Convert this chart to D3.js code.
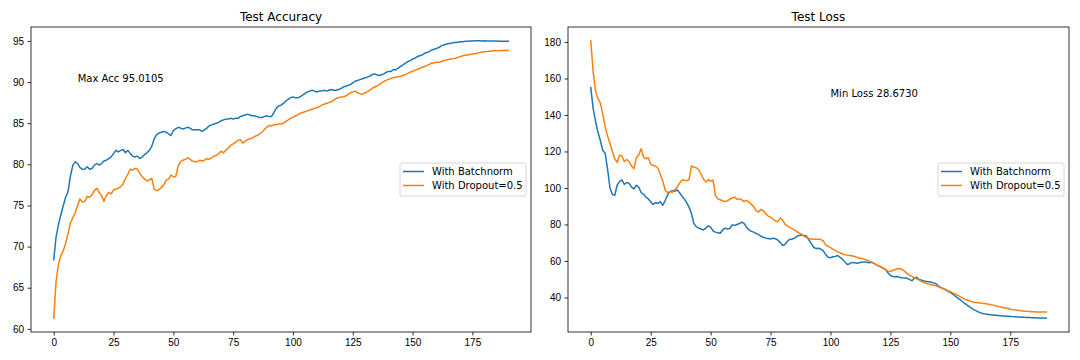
<!DOCTYPE html>
<html lang="en">
<head>
    <meta charset="UTF-8">
    <title>Test Accuracy / Test Loss</title>
    <style>
        body {
            margin: 0;
            background-color: #fff;
        }

        svg {
            display: block;
            font-family: "DejaVu Sans", sans-serif;
        }

        .tick line {
            stroke: #000;
            stroke-width: 0.8px;
        }

        .tick text {
            font-size: 10px;
            fill: #000;
        }

        .frame {
            fill: none;
            stroke: #000;
            stroke-width: 0.8px;
        }

        .title {
            font-size: 12px;
            fill: #000;
            text-anchor: middle;
        }

        .note, .legend text {
            font-size: 10px;
            fill: #000;
        }

        .series {
            fill: none;
            stroke-width: 1.5px;
            stroke-linejoin: round;
            stroke-linecap: square;
        }
    </style>
</head>
<body>
    <svg id="chart" width="1080" height="360"></svg>

    <script src="https://d3js.org/d3.v7.min.js"></script>
    <script>
        // values per epoch (0..190)
        const accBatchnorm = [
            68.4, 71.2, 72.7, 73.9, 75.0, 76.0, 76.7, 78.6, 79.9, 80.3,
            80.1, 79.6, 79.4, 79.4, 79.7, 79.4, 79.5, 79.9, 80.1, 79.9,
            80.1, 80.4, 80.5, 80.7, 80.9, 81.3, 81.7, 81.5, 81.7, 81.8,
            81.4, 81.7, 81.3, 81.0, 80.9, 81.0, 80.7, 80.9, 81.2, 81.4,
            81.7, 82.2, 83.1, 83.6, 83.8, 83.9, 84.0, 83.9, 83.7, 83.5,
            84.1, 84.3, 84.5, 84.4, 84.3, 84.4, 84.5, 84.4, 84.2, 84.2,
            84.2, 84.2, 84.0, 84.2, 84.4, 84.7, 84.8, 84.9, 85.0, 85.1,
            85.3, 85.4, 85.5, 85.5, 85.6, 85.5, 85.6, 85.6, 85.8, 85.9,
            86.0, 86.1, 86.0, 85.9, 85.9, 85.8, 85.7, 85.7, 85.8, 85.9,
            85.8, 85.8, 86.3, 86.8, 87.1, 87.2, 87.4, 87.7, 87.9, 88.1,
            88.2, 88.1, 88.1, 88.2, 88.4, 88.6, 88.8, 88.9, 89.0, 88.9,
            88.8, 88.9, 88.9, 89.0, 88.9, 89.0, 89.1, 89.0, 89.0, 89.1,
            89.2, 89.4, 89.5, 89.6, 89.7, 89.9, 90.1, 90.2, 90.3, 90.4,
            90.5, 90.6, 90.7, 90.9, 91.0, 90.9, 90.8, 90.9, 91.0, 91.2,
            91.3, 91.3, 91.5, 91.5, 91.7, 91.9, 92.1, 92.3, 92.5, 92.6,
            92.8, 92.9, 93.1, 93.2, 93.3, 93.5, 93.6, 93.7, 93.9, 94.0,
            94.1, 94.2, 94.4, 94.5, 94.6, 94.7, 94.7, 94.8, 94.8, 94.85,
            94.9, 94.9, 94.95, 94.97, 95.0, 95.0, 95.01, 95.0105, 95.01, 95.0,
            95.01, 95.0, 95.0, 95.0, 94.99, 94.98, 94.97, 94.96, 94.96, 94.97,
            94.97
        ];

        const accDropout = [
            61.3, 65.8, 67.9, 68.9, 69.5, 70.4, 71.6, 72.9, 73.5, 74.1,
            75.0, 75.8, 75.4, 75.5, 76.1, 76.0, 76.3, 76.8, 77.1, 76.6,
            76.2, 75.5, 76.2, 76.6, 76.4, 76.9, 77.0, 77.1, 77.3, 77.6,
            78.3, 78.8, 79.4, 79.3, 79.5, 79.4, 78.9, 78.5, 78.2, 78.0,
            78.1, 78.3, 77.0, 76.8, 76.9, 77.2, 77.5, 78.1, 78.2, 78.7,
            78.5, 78.5, 79.8, 80.3, 80.5, 80.6, 80.8, 80.6, 80.4, 80.3,
            80.3, 80.5, 80.4, 80.5, 80.7, 80.6, 80.8, 81.0, 81.1, 81.3,
            81.6, 81.4, 81.7, 82.0, 82.3, 82.5, 82.7, 82.9, 83.0, 82.6,
            82.8, 83.0, 83.1, 83.2, 83.4, 83.5, 83.7, 83.9, 84.2, 84.5,
            84.7, 84.7, 84.8, 84.8, 84.9, 84.9, 85.0, 85.2, 85.4, 85.6,
            85.7, 85.9, 86.0, 86.2, 86.3, 86.4, 86.5, 86.6, 86.7, 86.8,
            86.9, 87.0, 87.2, 87.3, 87.4, 87.5, 87.6, 87.8, 88.0, 88.1,
            88.2, 88.2, 88.3, 88.5, 88.7, 88.8, 88.9, 88.7, 88.6, 88.5,
            88.7, 88.8, 89.0, 89.2, 89.4, 89.5, 89.7, 89.9, 90.1, 90.2,
            90.35, 90.45, 90.55, 90.6, 90.65, 90.7, 90.8, 90.9, 91.05, 91.2,
            91.3, 91.45, 91.55, 91.65, 91.8, 91.9, 92.0, 92.15, 92.3, 92.35,
            92.4, 92.4, 92.5, 92.6, 92.7, 92.75, 92.8, 92.85, 92.9, 93.0,
            93.1, 93.2, 93.25, 93.3, 93.35, 93.4, 93.45, 93.5, 93.6, 93.65,
            93.7, 93.72, 93.75, 93.78, 93.8, 93.82, 93.83, 93.85, 93.85, 93.86,
            93.85
        ];

        const lossBatchnorm = [
            155.0, 143.5, 136.5, 130.5, 126.0, 120.5, 119.0, 110.5, 100.0, 96.5,
            96.0, 101.5, 103.5, 104.5, 102.0, 103.0, 102.5, 100.5, 99.5, 101.5,
            100.5, 97.5, 96.5, 95.0, 94.0, 92.5, 91.0, 92.0, 91.5, 92.5,
            90.5, 93.0, 96.0, 98.0, 98.5, 98.2, 99.0, 97.5, 95.5, 94.0,
            92.0, 89.5, 86.0, 80.5, 78.8, 78.0, 77.5, 77.0, 78.0, 79.2,
            78.5, 76.5, 75.8, 75.5, 75.2, 77.0, 78.0, 77.5, 77.8, 79.8,
            79.5, 80.0, 80.5, 81.3, 80.5, 78.5, 77.0, 76.2, 75.8, 75.0,
            74.5, 73.5, 73.0, 72.5, 72.3, 72.0, 72.5, 72.2, 71.5, 70.2,
            68.5, 69.0, 70.8, 71.8, 72.0, 72.5, 73.5, 74.0, 74.2, 74.0,
            73.5, 71.5, 69.5, 67.5, 66.8, 67.0, 66.5, 65.5, 63.5, 62.0,
            61.8, 62.3, 62.5, 63.0, 62.0, 61.0, 59.5, 58.0, 58.5, 59.2,
            59.0, 58.7, 59.0, 59.3, 59.5, 59.3, 59.0, 59.3, 58.8, 58.0,
            57.3, 56.8, 56.0, 55.2, 53.5, 52.0, 51.5, 51.3, 51.5, 51.0,
            50.8, 50.7, 50.5, 49.8, 49.2, 50.5, 51.0, 49.8, 49.5, 49.0,
            48.8, 48.6, 48.3, 48.0, 47.5, 46.3, 45.5, 44.8, 44.2, 43.5,
            42.6, 41.8, 40.8, 39.8, 38.8, 37.8, 36.7, 35.8, 34.8, 34.0,
            33.2, 32.5, 31.9, 31.4, 31.1, 30.9, 30.7, 30.5, 30.3, 30.2,
            30.1, 30.0, 29.9, 29.8, 29.7, 29.6, 29.5, 29.4, 29.3, 29.25,
            29.2, 29.1, 29.05, 29.0, 28.95, 28.9, 28.85, 28.8, 28.75, 28.7,
            28.673
        ];

        const lossDropout = [
            180.6, 163.5, 153.0, 149.0, 146.5, 140.5, 133.5, 128.5, 124.5, 120.0,
            116.0, 114.0, 118.0, 117.5, 114.5, 115.6, 114.5, 112.0, 110.5, 116.5,
            118.0, 121.5, 117.0, 116.0, 116.5, 113.0, 112.3, 112.0, 110.8, 107.5,
            104.0, 99.0, 97.4, 98.0, 97.6, 98.8, 100.5, 102.5, 104.3, 104.3,
            104.0, 104.5, 112.0, 111.5, 111.1, 110.0, 107.5, 105.0, 103.2, 104.5,
            103.8, 104.3, 96.0, 94.0, 93.5, 93.0, 92.5, 93.0, 93.8, 94.5,
            95.0, 93.8, 94.0, 93.5, 92.5, 93.2, 92.3, 91.0, 89.8, 87.5,
            86.8, 88.3, 87.5, 85.8, 84.6, 84.0, 83.0, 82.0, 81.4, 83.5,
            82.5, 80.2, 79.2, 78.3, 77.7, 77.0, 76.0, 75.3, 74.5, 73.5,
            72.8, 72.3, 72.0, 71.9, 71.9, 71.9, 71.7, 71.0, 68.8, 68.0,
            67.3, 66.5, 65.7, 65.0, 64.5, 63.8, 63.4, 63.2, 63.0, 62.8,
            62.5, 62.0, 61.6, 61.3, 61.0, 60.5, 60.0, 59.5, 58.8, 58.0,
            57.3, 56.7, 56.0, 55.3, 54.5, 54.3, 54.8, 55.3, 55.7, 55.9,
            55.2, 54.3, 53.0, 52.2, 51.5, 50.8, 50.2, 49.5, 48.8, 48.2,
            47.7, 47.3, 47.0, 46.7, 46.4, 45.9, 45.3, 44.9, 44.4, 43.7,
            43.1, 42.5, 41.9, 41.3, 40.5, 39.8, 39.1, 38.6, 38.1, 37.7,
            37.4, 37.2, 37.0, 36.9, 36.7, 36.5, 36.3, 36.0, 35.8, 35.5,
            35.1, 34.8, 34.5, 34.2, 33.9, 33.6, 33.4, 33.2, 33.0, 32.8,
            32.6, 32.5, 32.4, 32.3, 32.2, 32.15, 32.1, 32.1, 32.1, 32.05,
            32.05
        ];

        const seriesNames = ["With Batchnorm", "With Dropout=0.5"];
        const seriesColors = ["#1f77b4", "#ff7f0e"];
        const xTicks = [0, 25, 50, 75, 100, 125, 150, 175];
        const accTicks = [60, 65, 70, 75, 80, 85, 90, 95];
        const lossTicks = [40, 60, 80, 100, 120, 140, 160, 180];

        const svg = d3.select("#chart");

        function drawPanel(opts) {
            const w = opts.right - opts.left;
            const h = opts.bottom - opts.top;
            const g = svg.append("g").attr("transform", `translate(${opts.left},${opts.top})`);

            const n = opts.series[0].length;
            const xPad = (n - 1) * 0.05;
            const x = d3.scaleLinear().domain([-xPad, n - 1 + xPad]).range([0, w]);

            const all = opts.series.flat();
            const lo = d3.min(all), hi = d3.max(all);
            const yPad = (hi - lo) * 0.05;
            const y = d3.scaleLinear().domain([lo - yPad, hi + yPad]).range([h, 0]);

            g.append("g")
                .attr("transform", `translate(0,${h})`)
                .call(d3.axisBottom(x).tickValues(xTicks).tickSize(3.5).tickPadding(3.5).tickSizeOuter(0))
                .call(a => a.select(".domain").remove());

            g.append("g")
                .call(d3.axisLeft(y).tickValues(opts.yTicks).tickSize(3.5).tickPadding(3.5).tickSizeOuter(0))
                .call(a => a.select(".domain").remove());

            const line = d3.line()
                .x((d, i) => x(i))
                .y(d => y(d));

            opts.series.forEach((s, k) => {
                g.append("path")
                    .datum(s)
                    .attr("class", "series")
                    .attr("stroke", seriesColors[k])
                    .attr("d", line);
            });

            g.append("rect")
                .attr("class", "frame")
                .attr("width", w)
                .attr("height", h);

            g.append("text")
                .attr("class", "title")
                .attr("x", w / 2)
                .attr("y", -6)
                .text(opts.title);

            g.append("text")
                .attr("class", "note")
                .attr("x", x(opts.note.x))
                .attr("y", y(opts.note.y))
                .text(opts.note.text);

            // legend, center right
            const lw = 126, lh = 33;
            const lg = g.append("g")
                .attr("class", "legend")
                .attr("transform", `translate(${w - 5 - lw},${h / 2 - lh / 2})`);
            lg.append("rect")
                .attr("width", lw)
                .attr("height", lh)
                .attr("rx", 2)
                .attr("fill", "#fff")
                .attr("fill-opacity", 0.8)
                .attr("stroke", "#d6d6d6")
                .attr("stroke-width", 1);
            seriesNames.forEach((name, k) => {
                const cy = 8.5 + k * 14;
                lg.append("line")
                    .attr("x1", 3).attr("x2", 24)
                    .attr("y1", cy).attr("y2", cy)
                    .attr("stroke", seriesColors[k])
                    .attr("stroke-width", 1.5);
                lg.append("text")
                    .attr("x", 32)
                    .attr("y", cy)
                    .attr("dy", "0.35em")
                    .text(name);
            });
        }

        drawPanel({
            left: 31, right: 531, top: 27, bottom: 332,
            title: "Test Accuracy",
            series: [accBatchnorm, accDropout],
            yTicks: accTicks,
            note: { x: 10, y: 90, text: "Max Acc 95.0105" }
        });

        drawPanel({
            left: 568, right: 1069, top: 27, bottom: 332,
            title: "Test Loss",
            series: [lossBatchnorm, lossDropout],
            yTicks: lossTicks,
            note: { x: 100, y: 150, text: "Min Loss 28.6730" }
        });
    </script>
</body>
</html>
